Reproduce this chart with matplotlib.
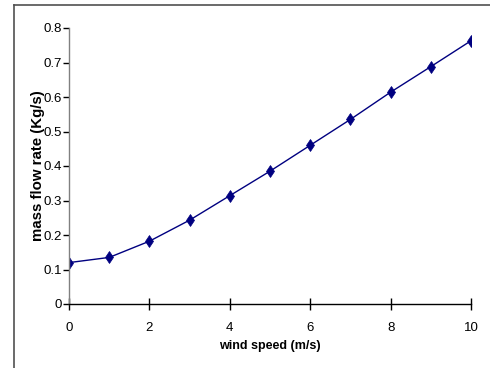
import matplotlib
matplotlib.use("Agg")
import matplotlib.pyplot as plt
from matplotlib.lines import Line2D

wind_speed = [0, 1, 2, 3, 4, 5, 6, 7, 8, 9, 10]
mass_flow = [0.120, 0.135, 0.182, 0.243, 0.314, 0.385, 0.460, 0.535, 0.614, 0.688, 0.763]
x_ticks = [0, 2, 4, 6, 8, 10]
y_ticks = [0, 0.1, 0.2, 0.3, 0.4, 0.5, 0.6, 0.7, 0.8]
y_tick_labels = ["0", "0.1", "0.2", "0.3", "0.4", "0.5", "0.6", "0.7", "0.8"]

plt.rcParams['font.family'] = ['Liberation Sans', 'DejaVu Sans']

W, H = 490, 368
fig = plt.figure(figsize=(W / 100, H / 100), dpi=100)
ax = fig.add_axes([69 / W, 1 - 304 / H, (471 - 69) / W, (304 - 28) / H])

ax.plot(wind_speed, mass_flow, color='#000080', lw=1.0, marker='d',
        markersize=6, markeredgewidth=0.5,
        markerfacecolor='#000080', markeredgecolor='#000080')

ax.set_xlim(0, 10)
ax.set_ylim(0, 0.8)
ax.set_xticks(x_ticks)
ax.set_yticks(y_ticks)
ax.set_yticklabels(y_tick_labels)

for s in ['top', 'right']:
    ax.spines[s].set_visible(False)
ax.spines['left'].set_color('#808080')
ax.spines['bottom'].set_color('black')
ax.spines['left'].set_linewidth(1.0)
ax.spines['bottom'].set_linewidth(1.0)

ax.tick_params(axis='x', direction='inout', length=8, width=1, labelsize=9.5,
               pad=9, colors='black')
ax.tick_params(axis='y', direction='out', length=4, width=1, labelsize=9.5,
               pad=1, colors='black')

ax.set_xlabel('wind speed (m/s)', fontsize=9, fontweight='bold', labelpad=4)
ax.set_ylabel('mass flow rate (Kg/s)', fontsize=10.8, fontweight='bold', labelpad=-1)

# outer chart frame (left and top edges visible)
fig.add_artist(Line2D([13.5 / W, 13.5 / W], [0, 1 - 4.5 / H], transform=fig.transFigure,
                      color='#505050', lw=1.2))
fig.add_artist(Line2D([13.5 / W, 1], [1 - 4.5 / H, 1 - 4.5 / H], transform=fig.transFigure,
                      color='#505050', lw=1.2))

fig.savefig('out.png', dpi=100)
